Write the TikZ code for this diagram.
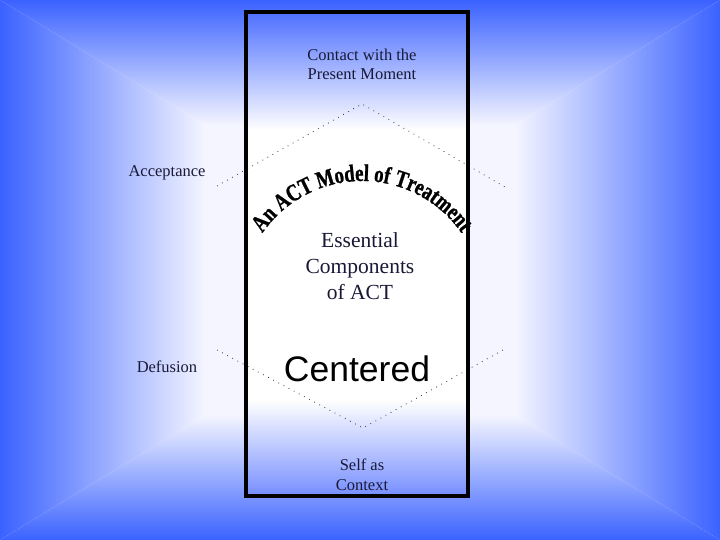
\documentclass[tikz,border=0pt]{standalone}
\usepackage{fontspec}
\setmainfont{Liberation Serif}
\newfontfamily\sansfont{Liberation Sans}
\newfontfamily\arcfont[FakeStretch=0.78, FakeBold=1]{Liberation Serif Bold}
\usetikzlibrary{decorations.text}

\definecolor{bgblue}{RGB}{58,98,255}
\definecolor{bglight}{RGB}{244,245,255}
\definecolor{boxtop}{RGB}{78,112,255}
\definecolor{boxbottom}{RGB}{118,142,255}
\definecolor{labelnavy}{RGB}{25,25,55}

\begin{document}
\begin{tikzpicture}[x=1pt, y=1pt,
  compname/.style={text=labelnavy, align=center, font=\fontsize{16.5}{19.5}\selectfont},
  dotline/.style={line width=0.8pt, dash pattern=on 0.8pt off 5pt, black!80}]

\useasboundingbox (0,0) rectangle (720,540);

% background
\fill[bglight] (205,125) rectangle (515,415);
\shade[top color=bgblue, bottom color=bglight] (0,540) -- (720,540) -- (515,415) -- (205,415) -- cycle;
\shade[top color=bglight, bottom color=bgblue] (0,0) -- (205,125) -- (515,125) -- (720,0) -- cycle;
\shade[left color=bgblue, right color=bglight] (0,0) -- (0,540) -- (205,415) -- (205,125) -- cycle;
\shade[left color=bglight, right color=bgblue] (720,0) -- (515,125) -- (515,415) -- (720,540) -- cycle;

% box
\fill[white] (246,140) rectangle (468,410);
\shade[top color=boxtop, bottom color=white] (246,528) rectangle (468,410);
\shade[top color=white, bottom color=boxbottom] (246,140) rectangle (468,44);

\coordinate (top) at (362,436);
\coordinate (ul) at (217,354);
\coordinate (ur) at (505,353);
\coordinate (ll) at (217,190);
\coordinate (lr) at (503,190);
\coordinate (bot) at (363,112);
\draw[dotline] (ul) -- (top) -- (ur);
\draw[dotline] (ll) -- (bot) -- (lr);

\draw[line width=3.5pt] (246,44) rectangle (468,528);

\node[compname] (contact) at (362,475.5) {Contact with the\\Present Moment};
\node[compname] (accept) at (167,367) {Acceptance};
\node[compname] (defusion) at (167,173) {Defusion};
\node[compname, font=\fontsize{21.5}{26}\selectfont] (essential) at (360,274) {Essential\\Components\\of ACT};
\node[font=\sansfont\fontsize{35.5}{40}\selectfont] (centered) at (357,171) {Centered};
\node[compname] (self) at (362,65) {Self as\\Context};

\path[decorate, decoration={text along path, text align=center,
  text={|\arcfont\fontsize{24}{24}\selectfont|An ACT Model of Treatment}}]
  (362,238) ++(160:121) arc (160:20:121);

\end{tikzpicture}
\end{document}
